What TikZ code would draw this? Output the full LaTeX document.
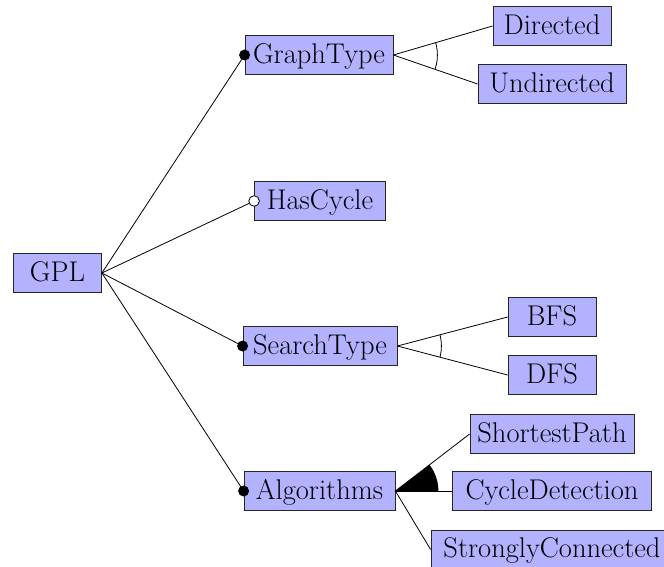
\documentclass[tikz,border=0pt]{standalone}
\begin{document}
\begin{tikzpicture}[x=1pt,y=-1pt,
  feature/.style={draw=black!85, fill=blue!30, line width=0.8pt,
    font=\fontsize{28.5}{34}\selectfont, inner xsep=4pt, inner ysep=6.2pt,
    text height=21.6pt, text depth=5pt, minimum width=88pt},
  link/.style={line width=0.8pt},
  mandatory/.style={fill=black},
  optional/.style={draw=black, fill=white, line width=0.8pt}]
\clip (0,0) rectangle (664,567);

% root
\node[feature] (gpl) at (57.5,273) {GPL};

% first level
\node[feature, minimum width=148pt] (gt) at (319,55)  {GraphType};
\node[feature, minimum width=131pt] (hc) at (320,201) {HasCycle};
\node[feature, minimum width=154pt] (st) at (320,346) {SearchType};
\node[feature, minimum width=151pt] (al) at (319.5,491) {Algorithms};

% second level
\node[feature, minimum width=118pt] (dir) at (552,26)  {Directed};
\node[feature, minimum width=148pt] (und) at (552,84)  {Undirected};
\node[feature] (bfs) at (552,317) {BFS};
\node[feature] (dfs) at (552,375) {DFS};
\node[feature, minimum width=164pt] (sp)  at (552,434) {ShortestPath};
\node[feature, minimum width=199pt] (cd)  at (552,491) {CycleDetection};
\node[feature, minimum width=242pt] (sc)  at (552,549.5) {StronglyConnected};

% root to first level
\draw[link] (gpl.east) -- (gt.west);
\draw[link] (gpl.east) -- (hc.west);
\draw[link] (gpl.east) -- (st.west);
\draw[link] (gpl.east) -- (al.west);
\fill[mandatory] (gt.west) circle (5.5pt);
\draw[optional]  (hc.west) circle (5.3pt);
\fill[mandatory] (st.west) circle (5.5pt);
\fill[mandatory] (al.west) circle (5.5pt);

% alternative groups
\draw[link] (gt.east) -- (dir.west);
\draw[link] (gt.east) -- (und.west);
\begin{scope}
  \clip (gt.east) -- (dir.west) -- (und.west) -- cycle;
  \draw[link] (gt.east) circle (44pt);
\end{scope}

\draw[link] (st.east) -- (bfs.west);
\draw[link] (st.east) -- (dfs.west);
\begin{scope}
  \clip (st.east) -- (bfs.west) -- (dfs.west) -- cycle;
  \draw[link] (st.east) circle (44pt);
\end{scope}

% or group
\draw[link] (al.east) -- (sp.west);
\draw[link] (al.east) -- (cd.west);
\draw[link] (al.east) -- (sc.west);
\begin{scope}
  \clip (al.east) -- (sp.west) -- (cd.west) -- cycle;
  \fill (al.east) circle (43pt);
\end{scope}
\end{tikzpicture}
\end{document}
